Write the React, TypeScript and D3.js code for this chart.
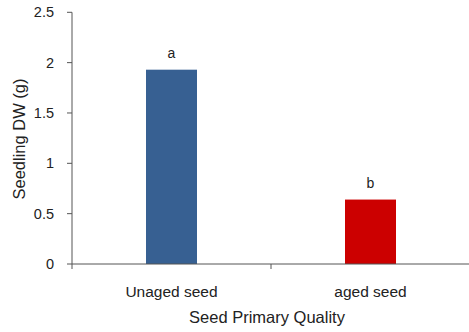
import React from 'react'
import * as d3 from 'd3'

const categories = ['Unaged seed', 'aged seed']
const values = [1.93, 0.64]
const letters = ['a', 'b']
const barColors = ['#376092', '#cc0000']
const yTicks = [0, 0.5, 1, 1.5, 2, 2.5]

const W = 469
const H = 332
const font = "'Liberation Sans Narrow', 'Liberation Sans', Arial, sans-serif"

export default function App() {
  const left = 72
  const right = 470
  const top = 12.3
  const bottom = 264

  const x = d3.scaleBand().domain(categories).range([left, right]).paddingInner(0).paddingOuter(0)
  const y = d3.scaleLinear().domain([0, 2.5]).range([bottom, top])
  const barW = 51

  return (
    <svg width={W} height={H} style={{ position: 'absolute', left: 0, top: 0 }}>
      <rect width={W} height={H} fill="#fff" />
      {/* bars */}
      {categories.map((c, i) => {
        const cx = (x(c) as number) + x.bandwidth() / 2
        return (
          <g key={c}>
            <rect
              x={cx - barW / 2}
              y={y(values[i])}
              width={barW}
              height={bottom - y(values[i])}
              fill={barColors[i]}
            />
            <text x={cx} y={y(values[i]) - 12} textAnchor="middle" fontFamily={font} fontSize={14} fill="#222">
              {letters[i]}
            </text>
            <text x={cx} y={297} textAnchor="middle" fontFamily={font} fontSize={15.5} fill="#222">
              {c}
            </text>
          </g>
        )
      })}
      {/* y axis */}
      <line x1={left} x2={left} y1={top} y2={bottom + 5} stroke="#555" />
      {yTicks.map((t) => (
        <g key={t}>
          <line x1={left - 5} x2={left} y1={y(t)} y2={y(t)} stroke="#555" />
          <text x={left - 18} y={y(t) + 5} textAnchor="end" fontFamily={font} fontSize={14.5} fill="#222">
            {t}
          </text>
        </g>
      ))}
      {/* x axis */}
      <line x1={left} x2={right} y1={bottom} y2={bottom} stroke="#555" />
      {categories.slice(1).map((c) => (
        <line key={c} x1={x(c)} x2={x(c)} y1={bottom} y2={bottom + 5} stroke="#555" />
      ))}
      <text x={267} y={323} textAnchor="middle" fontFamily={font} fontSize={16.5} fill="#222">
        Seed Primary Quality
      </text>
      <text
        transform={`translate(25,139) rotate(-90)`}
        textAnchor="middle"
        fontFamily={font}
        fontSize={16.5}
        fill="#222"
      >
        Seedling DW (g)
      </text>
    </svg>
  )
}
